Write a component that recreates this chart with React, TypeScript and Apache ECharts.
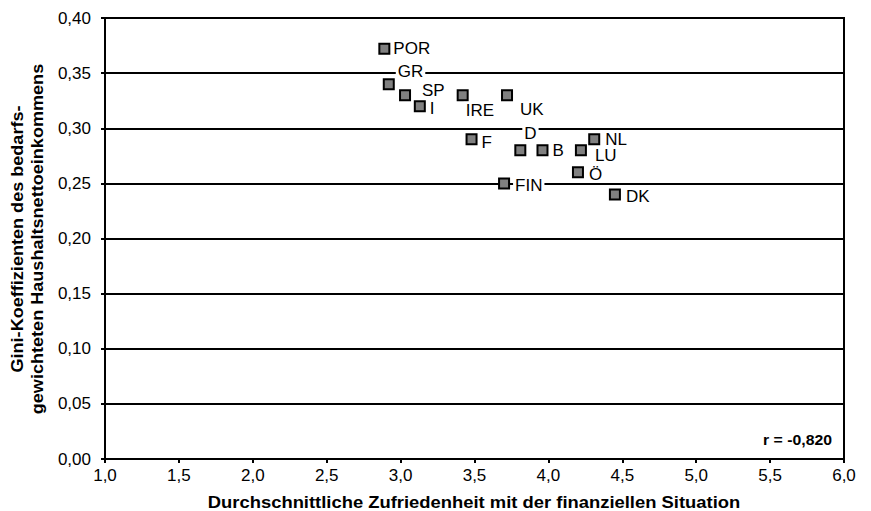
import React, { useEffect, useRef } from "react";
import * as echarts from "echarts";

const countries = ["POR", "GR", "SP", "I", "IRE", "UK", "F", "D", "B", "LU", "NL", "Ö", "FIN", "DK"];
const satisfaction = [2.89, 2.92, 3.03, 3.13, 3.42, 3.72, 3.48, 3.81, 3.96, 4.22, 4.31, 4.2, 3.7, 4.45];
const gini = [0.372, 0.34, 0.33, 0.32, 0.33, 0.33, 0.29, 0.28, 0.28, 0.28, 0.29, 0.26, 0.25, 0.24];
const correlationText = "r = -0,820";
const xTitle = "Durchschnittliche Zufriedenheit mit der finanziellen Situation";
const yTitle = "Gini-Koeffizienten des bedarfs-\ngewichteten Haushaltsnettoeinkommens";

// label placement tweaks (layout only)
const labelOffsets: Record<string, [number, number]> = {
  POR: [-2, 0], GR: [-2, -13], SP: [6, -5], I: [-1, 2], IRE: [-8, 15], UK: [2, 14],
  D: [-7, -17], F: [-1, 3], B: [-1, 0], LU: [3, 5], NL: [0, 0], "Ö": [0, 2], FIN: [0, 2], DK: [0, 2],
};

const FONT = "'Liberation Sans', Arial, sans-serif";

export default function App() {
  const ref = useRef<HTMLDivElement>(null);
  useEffect(() => {
    if (!ref.current) return;
    const chart = echarts.init(ref.current, null, { renderer: "svg" });
    const data = countries.map((n, i) => ({
      name: n,
      value: [satisfaction[i], gini[i]],
      label: { offset: labelOffsets[n] || [0, 0] },
    }));
    chart.setOption({
      animation: false,
      backgroundColor: "#fff",
      textStyle: { fontFamily: FONT },
      grid: { left: 105, top: 18, right: 27, bottom: 52, show: true, borderColor: "#000", borderWidth: 2 },
      xAxis: {
        type: "value", min: 1, max: 6, interval: 0.5,
        axisLine: { show: true, lineStyle: { color: "#000", width: 2 } },
        axisTick: { show: true, length: 4, lineStyle: { color: "#000", width: 2 } },
        axisLabel: { color: "#000", fontSize: 17, fontFamily: FONT, margin: 8, formatter: (v: number) => v.toFixed(1).replace(".", ",") },
        splitLine: { show: false },
      },
      yAxis: {
        type: "value", min: 0, max: 0.4, interval: 0.05,
        axisLine: { show: true, lineStyle: { color: "#000", width: 2 } },
        axisTick: { show: true, length: 4, lineStyle: { color: "#000", width: 2 } },
        axisLabel: { color: "#000", fontSize: 17, fontFamily: FONT, margin: 14, formatter: (v: number) => v.toFixed(2).replace(".", ",") },
        splitLine: { show: true, lineStyle: { color: "#000", width: 2 } },
      },
      graphic: [
        {
          type: "text", x: 474, y: 502, scaleX: 1.15,
          style: { text: xTitle, fontSize: 16, fontWeight: "bold", fontFamily: FONT, fill: "#000", align: "center", verticalAlign: "middle" },
        },
        {
          type: "text", x: 28, y: 239, rotation: Math.PI / 2, scaleX: 1.13,
          style: { text: yTitle, fontSize: 16, fontWeight: "bold", fontFamily: FONT, fill: "#000", align: "center", verticalAlign: "middle", lineHeight: 20 },
        },
        {
          type: "text", x: 832, y: 440, scaleX: 1.13,
          style: { text: correlationText, fontSize: 14, fontWeight: "bold", fontFamily: FONT, fill: "#000", align: "right", verticalAlign: "middle" },
        },
      ],
      series: [
        {
          type: "scatter",
          symbol: "rect",
          symbolSize: 10,
          itemStyle: { color: "#808080", borderColor: "#000", borderWidth: 2, opacity: 1 },
          label: {
            show: true, position: "right", distance: 3, formatter: "{b}",
            color: "#000", fontSize: 17, fontFamily: FONT,
            backgroundColor: "#fff", padding: [0, 2],
          },
          data,
          z: 3,
        },
      ],
    });
    return () => chart.dispose();
  }, []);
  return <div ref={ref} style={{ width: 871, height: 511, position: "absolute", left: 0, top: 0 }} />;
}
